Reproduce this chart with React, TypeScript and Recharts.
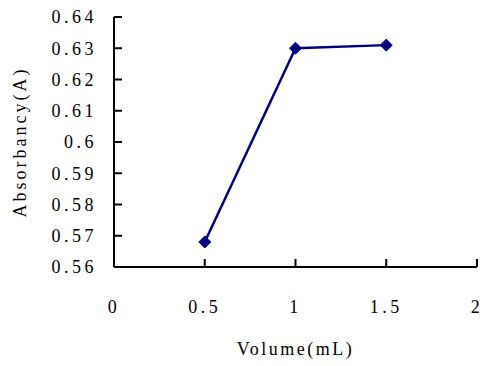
import { Line, LineChart, XAxis, YAxis } from "recharts";

const volumes = [0.5, 1, 1.5];
const absorbancy = [0.568, 0.63, 0.631];
const xTicks = [0, 0.5, 1, 1.5, 2];
const yTicks = [0.56, 0.57, 0.58, 0.59, 0.6, 0.61, 0.62, 0.63, 0.64];

const data = volumes.map((v, i) => ({ volume: v, abs: absorbancy[i] }));

const FONT = "Liberation Serif";
const INK = "#000080";
const textStyle = {
  fill: "#000",
  fontSize: 18,
  fontFamily: FONT,
  style: { fontFamily: FONT, letterSpacing: "3.5px" },
};

function Diamond({ cx, cy }: { cx?: number; cy?: number }) {
  if (cx == null || cy == null) return null;
  const r = 6;
  return (
    <path
      d={`M${cx},${cy - r}L${cx + r},${cy}L${cx},${cy + r}L${cx - r},${cy}Z`}
      fill={INK}
      stroke={INK}
    />
  );
}

export default function App() {
  return (
    <div style={{ position: "absolute", left: 0, top: 0, background: "#fff" }}>
      <LineChart
        width={490}
        height={366}
        data={data}
        margin={{ top: 17, right: 13, left: 0, bottom: 0 }}
      >
        <XAxis
          dataKey="volume"
          type="number"
          domain={[0, 2]}
          ticks={xTicks}
          height={99}
          stroke="#000"
          strokeWidth={2}
          tickSize={-8}
          tickMargin={41}
          tickFormatter={(v: number) => String(v)}
          tick={textStyle}
          label={{
            value: "Volume(mL)",
            position: "insideBottom",
            offset: 11,
            fill: "#000",
            fontSize: 18,
            style: { fontFamily: FONT, letterSpacing: "2.5px" },
          }}
        />
        <YAxis
          type="number"
          domain={[0.56, 0.64]}
          ticks={yTicks}
          width={114}
          stroke="#000"
          strokeWidth={2}
          tickSize={-8}
          tickMargin={25}
          tickFormatter={(v: number) => String(v)}
          tick={textStyle}
          label={{
            value: "Absorbancy(A)",
            angle: -90,
            position: "insideLeft",
            offset: 20,
            fill: "#000",
            fontSize: 18,
            style: { fontFamily: FONT, letterSpacing: "3px", textAnchor: "middle" },
          }}
        />
        <Line
          dataKey="abs"
          stroke={INK}
          strokeWidth={2.5}
          dot={<Diamond />}
          activeDot={false}
          isAnimationActive={false}
        />
      </LineChart>
    </div>
  );
}
